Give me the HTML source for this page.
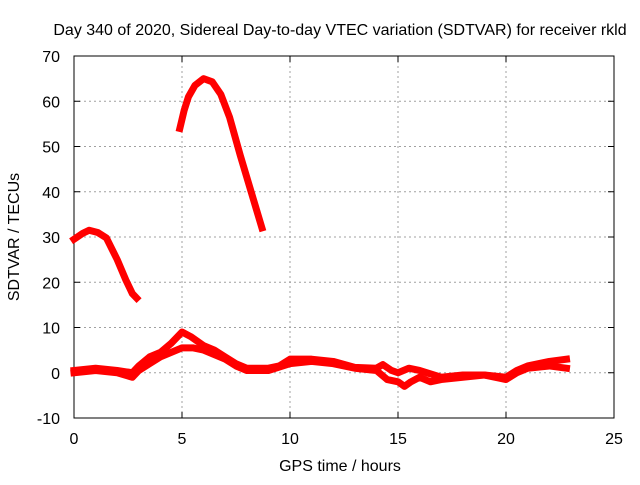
<!DOCTYPE html>
<html><head><meta charset="utf-8"><style>
body{margin:0;background:#fff}
svg text{font-family:"Liberation Sans",sans-serif;font-size:16px;fill:#000}
</style></head><body>
<svg id="chart" width="640" height="480">
<text x="340" y="35" text-anchor="middle">Day 340 of 2020, Sidereal Day-to-day VTEC variation (SDTVAR) for receiver rkld</text>
<g id="grid"></g><g id="axes"></g><g id="series"></g>
<text x="340" y="471" text-anchor="middle">GPS time / hours</text>
<text x="19" y="237" text-anchor="middle" transform="rotate(-90 19 237)">SDTVAR / TECUs</text>
</svg>
<script>
const xTicks=[0,5,10,15,20,25];
const yTicks=[-10,0,10,20,30,40,50,60,70];
const seriesA=[[0,29.5],[0.4,30.8],[0.7,31.5],[1.1,31],[1.5,29.8],[2,25],[2.4,20.5],[2.7,17.5],[2.9,16.5]];
const seriesB=[[4.9,54],[5.1,58],[5.3,61],[5.6,63.5],[6,65],[6.4,64.3],[6.8,61.5],[7.2,56.5],[7.7,48],[8.2,40],[8.7,32]];
const seriesC=[[0,0.5],[1,1],[2,0.5],[2.7,0],[3,1.5],[3.5,3.5],[4,4.5],[4.5,6.5],[5,9],[5.4,8],[6,6],[6.5,5],[7,3.5],[7.5,2],[8,1],[9,1],[9.5,1.5],[10,3],[11,3],[12,2.5],[13,1.2],[14,1],[14.3,1.8],[14.7,0.5],[15,0],[15.5,1],[16,0.5],[17,-1],[18,-0.5],[19,-0.5],[20,-1],[20.5,0.5],[21,1.5],[22,2.5],[22.8,3]];
const seriesD=[[0,0],[1,0.5],[2,0],[2.7,-1],[3,0.5],[3.5,2],[4,3.5],[4.5,4.5],[5,5.5],[5.5,5.5],[6,5],[7,3],[7.5,1.5],[8,0.5],[9,0.5],[10,2],[11,2.5],[12,2],[13,1],[14,0.5],[14.5,-1.5],[15,-2],[15.3,-3],[15.6,-2],[16,-1],[16.5,-2],[17,-1.5],[18,-1],[19,-0.5],[20,-1.5],[20.5,0],[21,1],[22,1.5],[22.8,1]];
const X0=74,X1=614,Y0=418,Y1=56;
const xs=v=>X0+(v-0)/25*(X1-X0);
const ys=v=>Y0-(v+10)/80*(Y0-Y1);
const NS="http://www.w3.org/2000/svg";
function mk(t,a,p){const e=document.createElementNS(NS,t);for(const k in a)e.setAttribute(k,a[k]);p.appendChild(e);return e;}
const grid=document.getElementById('grid'),axes=document.getElementById('axes'),ser=document.getElementById('series');
xTicks.forEach(t=>{
 if(t>0&&t<25){const g=mk('line',{x1:xs(t),x2:xs(t),y1:Y0,y2:Y1,stroke:'#a0a0a0','stroke-dasharray':'2,3'},grid);
 
 }
 const l=mk('text',{x:xs(t),y:Y0+26,'text-anchor':'middle'},axes);l.textContent=t;
 
 
 mk('line',{x1:xs(t),x2:xs(t),y1:Y0,y2:Y0-6,stroke:'#000'},axes);
 mk('line',{x1:xs(t),x2:xs(t),y1:Y1,y2:Y1+6,stroke:'#000'},axes);
});
yTicks.forEach(t=>{
 if(t>-10&&t<70){const g=mk('line',{x1:X0,x2:X1,y1:ys(t),y2:ys(t),stroke:'#a0a0a0','stroke-dasharray':'2,3'},grid);
 
 }
 const l=mk('text',{x:X0-14,y:ys(t)+6,'text-anchor':'end'},axes);l.textContent=t;
 
 
 mk('line',{x1:X0,x2:X0+6,y1:ys(t),y2:ys(t),stroke:'#000'},axes);
 mk('line',{x1:X1,x2:X1-6,y1:ys(t),y2:ys(t),stroke:'#000'},axes);
});
const fr=mk('rect',{x:X0,y:Y1,width:X1-X0,height:Y0-Y1,fill:'none',stroke:'#000'},axes);


[[seriesA,7,'series-a'],[seriesB,7,'series-b'],[seriesC,7,'series-c'],[seriesD,7,'series-d']].forEach(([d,w,n])=>{
 const p=mk('polyline',{points:d.map(q=>xs(q[0])+','+ys(q[1])).join(' '),fill:'none',stroke:'#ff0000','stroke-width':w,'stroke-linejoin':'round','stroke-linecap':'square'},ser);
 
 
});
</script>
</body></html>
